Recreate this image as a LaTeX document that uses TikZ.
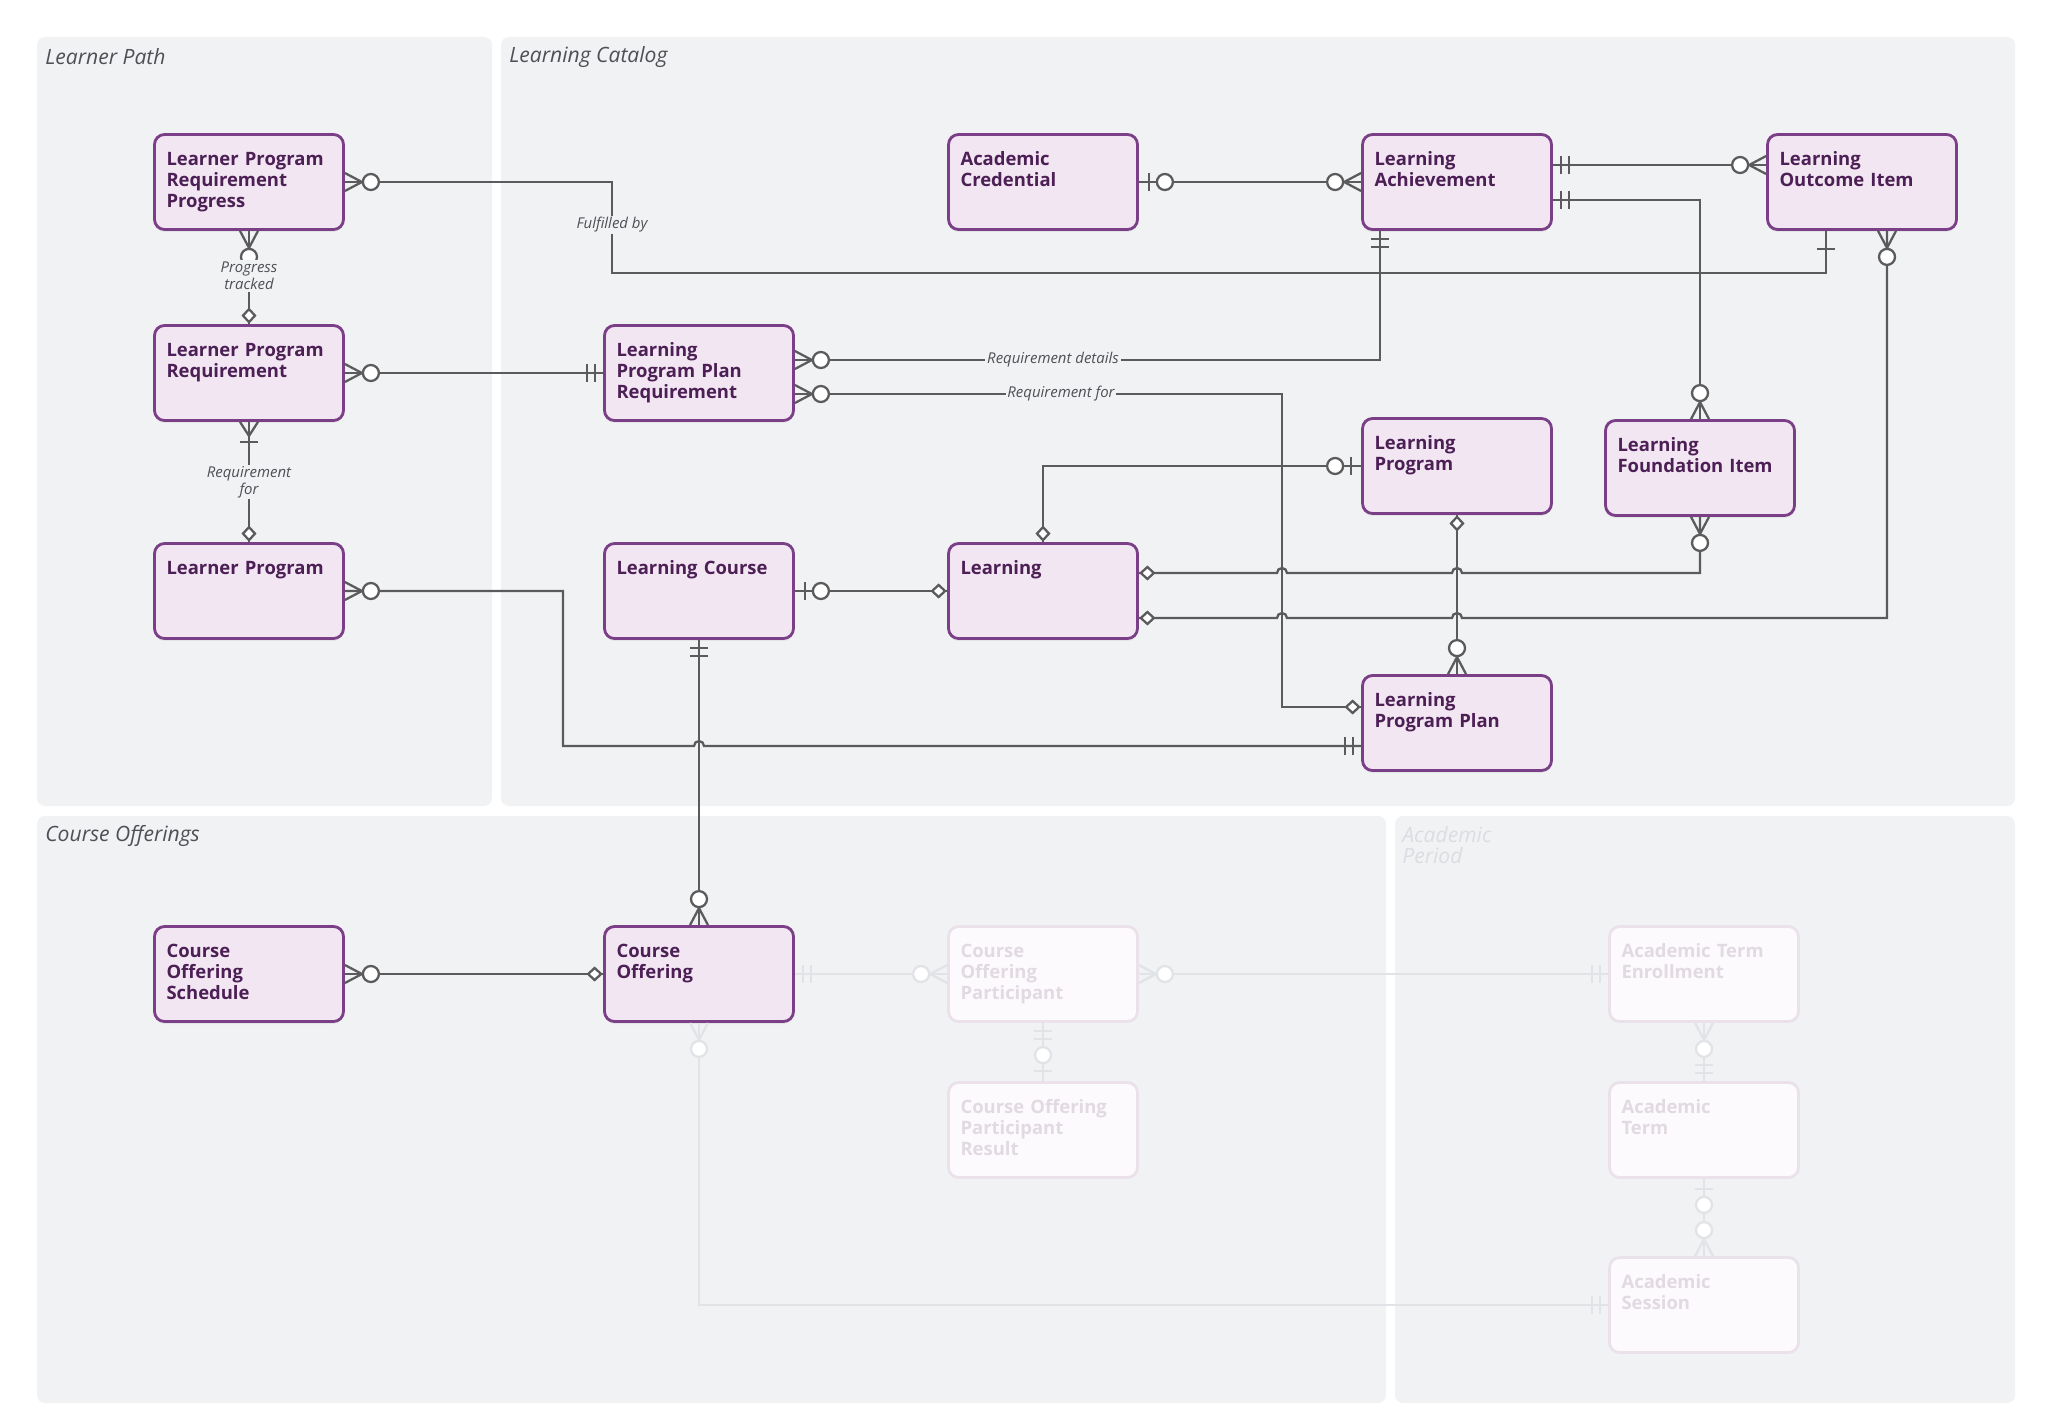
\documentclass[tikz,border=0pt]{standalone}
\usepackage{fontspec}
\setmainfont{Open Sans}
\usetikzlibrary{calc,shadows}

\definecolor{panelGray}{HTML}{F1F2F4}
\definecolor{entBorder}{HTML}{7B3F88}
\definecolor{entFill}{HTML}{F2E6F3}
\definecolor{entText}{HTML}{4C1F55}
\definecolor{lineGray}{HTML}{5B5B5E}
\definecolor{titleGray}{HTML}{4F5055}
\definecolor{fadeBorder}{HTML}{EBE1EA}
\definecolor{fadeFill}{HTML}{FCFAFC}
\definecolor{fadeText}{HTML}{E2DAE2}
\definecolor{fadeLine}{HTML}{E2E3E7}
\definecolor{fadeTitle}{HTML}{DCDDE1}

\begin{document}
\begin{tikzpicture}[
x=0.02cm, y=-0.02cm,
panel/.style={fill=panelGray, rounded corners=0.16cm},
paneltitle/.style={anchor=west, font=\fontsize{12}{12.2}\selectfont\itshape, text=titleGray, align=left, inner sep=0pt},
boxbase/.style={
    rounded corners=0.2cm,
    line width=1.6pt,
    font=\fontsize{10.5}{12}\selectfont\bfseries,
    text width=3.3cm,
    align=left,
    inner xsep=0.24cm,
    inner ysep=0.12cm,
    text height=0.5cm,
    text depth=1.16cm
},
entity/.style={boxbase, draw=entBorder, fill=entFill, text=entText,
    drop shadow={opacity=0.12, shadow xshift=0pt, shadow yshift=-0.05cm}},
ghost/.style={boxbase, draw=fadeBorder, fill=fadeFill, text=fadeText},
erline/.style={draw=lineGray, line width=1.3pt},
rel/.style={erline},
rellabel/.style={font=\fontsize{8.5}{8}\selectfont\itshape, text=titleGray, fill=panelGray, inner sep=1pt, align=center},
% end markers, local x runs away from the box edge
pics/crowzero/.style={code={
    \draw[erline] (0,-9) -- (17,0) -- (0,9);
    \draw[erline, fill=white] (26,0) circle (8);
}},
pics/crowone/.style={code={
    \draw[erline] (0,-9) -- (14,0) -- (0,9);
    \draw[erline] (20,-9) -- (20,9);
}},
pics/onlyone/.style={code={
    \draw[erline] (8,-9) -- (8,9);
    \draw[erline] (16,-9) -- (16,9);
}},
pics/zeroone/.style={code={
    \draw[erline] (10,-9) -- (10,9);
    \draw[erline, fill=white] (26,0) circle (8);
}},
pics/justone/.style={code={
    \draw[erline] (18,-9) -- (18,9);
}},
pics/diamondmk/.style={code={
    \draw[erline, fill=white] (2,0) -- (8.5,-6) -- (15,0) -- (8.5,6) -- cycle;
}}
]

\fill[white] (0,0) rectangle (2048,1426);
\useasboundingbox (0,0) rectangle (2048,1426);

% =====================================================
% Panels
% =====================================================
\fill[panel] (37,37) rectangle (492,806);
\fill[panel] (501,37) rectangle (2015,806);
\fill[panel] (37,816) rectangle (1386,1403);
\fill[panel] (1395,816) rectangle (2015,1403);

\node[paneltitle] (tpath) at (45,57) {Learner Path};
\node[paneltitle] (tcatalog) at (509,57) {Learning Catalog};
\node[paneltitle] (toffer) at (45,836) {Course Offerings};
\node[paneltitle, anchor=north west, text=fadeTitle] (tperiod) at (1402,826) {Academic\\Period};

% =====================================================
% Entities
% =====================================================
\node[entity] (lprp) at (249,182) {Learner Program\\Requirement\\Progress};
\node[entity] (lpr) at (249,373) {Learner Program\\Requirement};
\node[entity] (lrnprog) at (249,591) {Learner Program};
\node[entity] (lppr) at (699,373) {Learning\\Program Plan\\Requirement};
\node[entity] (lcourse) at (699,591) {Learning Course};
\node[entity] (acred) at (1043,182) {Academic\\Credential};
\node[entity] (lach) at (1457,182) {Learning\\Achievement};
\node[entity] (loi) at (1862,182) {Learning\\Outcome Item};
\node[entity] (lprogram) at (1457,466) {Learning\\Program};
\node[entity] (lfi) at (1700,468) {Learning\\Foundation Item};
\node[entity] (learning) at (1043,591) {Learning};
\node[entity] (lpp) at (1457,723) {Learning\\Program Plan};
\node[entity] (cos) at (249,974) {Course\\Offering\\Schedule};
\node[entity] (co) at (699,974) {Course\\Offering};

\node[ghost] (cop) at (1043,974) {Course\\Offering\\Participant};
\node[ghost] (copr) at (1043,1130) {Course Offering\\Participant\\Result};
\node[ghost] (ate) at (1704,974) {Academic Term\\Enrollment};
\node[ghost] (aterm) at (1704,1130) {Academic\\Term};
\node[ghost] (asess) at (1704,1305) {Academic\\Session};

% =====================================================
% Relationships
% =====================================================
\draw[rel] (lprp.east) -| (612,273) -| ($(loi.south)+(-36,0)$);
\draw[rel] (lprp.south) -- (lpr.north);
\draw[rel] (lpr.east) -- (lppr.west);
\draw[rel] (lpr.south) -- (lrnprog.north);
\draw[rel] (lrnprog.east) -| (563,746) -- (694,746) arc (180:360:5) -- ($(lpp.west)+(0,23)$);
\draw[rel] ($(lppr.east)+(0,-13)$) -| ($(lach.south)+(-77,0)$);
\draw[rel] ($(lppr.east)+(0,21)$) -| (1282,707) -- ($(lpp.west)+(0,-16)$);
\draw[rel] (acred.east) -- (lach.west);
\draw[rel] ($(lach.east)+(0,-17)$) -- ($(loi.west)+(0,-17)$);
\draw[rel] ($(lach.east)+(0,18)$) -| (lfi.north);
\draw[rel] ($(loi.south)+(25,0)$) -- (1887,618) -- (1462,618) arc (0:-180:5)
    -- (1287,618) arc (0:-180:5) -- ($(learning.east)+(0,27)$);
\draw[rel] (lfi.south) -- (1700,573) -- (1462,573) arc (0:-180:5)
    -- (1287,573) arc (0:-180:5) -- ($(learning.east)+(0,-18)$);
\draw[rel] (learning.north) |- (lprogram.west);
\draw[rel] (lprogram.south) -- (lpp.north);
\draw[rel] (lcourse.east) -- (learning.west);
\draw[rel] (lcourse.south) -- (co.north);
\draw[rel] (cos.east) -- (co.west);

% end markers
\pic at (lprp.east) {crowzero};
\pic[rotate=-90] at ($(loi.south)+(-36,0)$) {justone};
\pic[rotate=-90] at (lprp.south) {crowzero};
\pic[rotate=90] at (lpr.north) {diamondmk};
\pic at (lpr.east) {crowzero};
\pic[rotate=180] at (lppr.west) {onlyone};
\pic[rotate=-90] at (lpr.south) {crowone};
\pic[rotate=90] at (lrnprog.north) {diamondmk};
\pic at (lrnprog.east) {crowzero};
\pic[rotate=180] at ($(lpp.west)+(0,23)$) {onlyone};
\pic at ($(lppr.east)+(0,-13)$) {crowzero};
\pic[rotate=-90] at ($(lach.south)+(-77,0)$) {onlyone};
\pic at ($(lppr.east)+(0,21)$) {crowzero};
\pic[rotate=180] at ($(lpp.west)+(0,-16)$) {diamondmk};
\pic at (acred.east) {zeroone};
\pic[rotate=180] at (lach.west) {crowzero};
\pic at ($(lach.east)+(0,-17)$) {onlyone};
\pic[rotate=180] at ($(loi.west)+(0,-17)$) {crowzero};
\pic at ($(lach.east)+(0,18)$) {onlyone};
\pic[rotate=90] at (lfi.north) {crowzero};
\pic[rotate=-90] at ($(loi.south)+(25,0)$) {crowzero};
\pic at ($(learning.east)+(0,27)$) {diamondmk};
\pic[rotate=-90] at (lfi.south) {crowzero};
\pic at ($(learning.east)+(0,-18)$) {diamondmk};
\pic[rotate=90] at (learning.north) {diamondmk};
\pic[rotate=180] at (lprogram.west) {zeroone};
\pic[rotate=-90] at (lprogram.south) {diamondmk};
\pic[rotate=90] at (lpp.north) {crowzero};
\pic at (lcourse.east) {zeroone};
\pic[rotate=180] at (learning.west) {diamondmk};
\pic[rotate=-90] at (lcourse.south) {onlyone};
\pic[rotate=90] at (co.north) {crowzero};
\pic at (cos.east) {crowzero};
\pic[rotate=180] at (co.west) {diamondmk};

% relationship labels
\node[rellabel] (lblfulfil) at (612,225) {Fulfilled by};
\node[rellabel] (lbltrack) at (249,276) {Progress\\tracked};
\node[rellabel] (lblreqfor) at (249,482) {Requirement\\for};
\node[rellabel] (lbldetails) at (1053,360) {Requirement details};
\node[rellabel] (lblplanfor) at (1061,394) {Requirement for};

% faded part (Academic Period links)
\begin{scope}[erline/.style={draw=fadeLine, line width=1.3pt}]
\draw[rel] (co.east) -- (cop.west);
\draw[rel] (cop.east) -- (ate.west);
\draw[rel] (cop.south) -- (copr.north);
\draw[rel] (ate.south) -- (aterm.north);
\draw[rel] (aterm.south) -- (asess.north);
\draw[rel] (co.south) |- (asess.west);

\pic at (co.east) {onlyone};
\pic[rotate=180] at (cop.west) {crowzero};
\pic at (cop.east) {crowzero};
\pic[rotate=180] at (ate.west) {onlyone};
\pic[rotate=-90] at (cop.south) {onlyone};
\pic[rotate=90] at (copr.north) {zeroone};
\pic[rotate=-90] at (ate.south) {crowzero};
\pic[rotate=90] at (aterm.north) {onlyone};
\pic[rotate=-90] at (aterm.south) {zeroone};
\pic[rotate=90] at (asess.north) {crowzero};
\pic[rotate=-90] at (co.south) {crowzero};
\pic[rotate=180] at (asess.west) {onlyone};
\end{scope}

\end{tikzpicture}
\end{document}
